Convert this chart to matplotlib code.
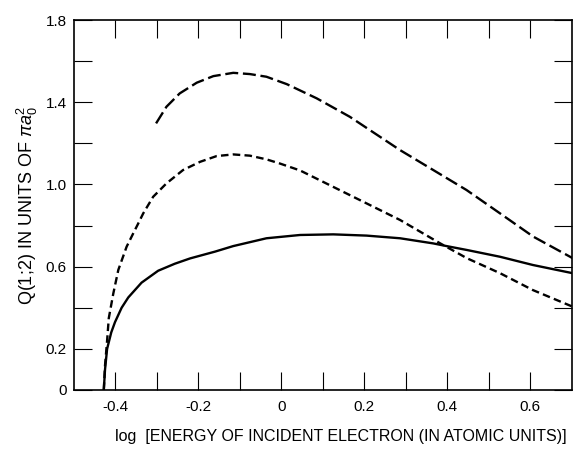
import matplotlib
matplotlib.use('Agg')
import matplotlib.pyplot as plt

plt.rcParams['font.family'] = ['Liberation Sans', 'DejaVu Sans']
plt.rcParams['mathtext.fontset'] = 'custom'
plt.rcParams['mathtext.rm'] = 'Liberation Sans'
plt.rcParams['mathtext.it'] = 'Liberation Sans:italic'

# solid curve
solid_x = [-0.428, -0.425, -0.420, -0.410, -0.401, -0.385, -0.369, -0.337,
           -0.297, -0.257, -0.220, -0.160, -0.116, -0.036, 0.045, 0.125,
           0.205, 0.286, 0.366, 0.398, 0.447, 0.527, 0.606, 0.702]
solid_y = [0.0, 0.10, 0.20, 0.28, 0.33, 0.40, 0.45, 0.522,
           0.580, 0.614, 0.640, 0.673, 0.700, 0.738, 0.754, 0.757,
           0.751, 0.738, 0.713, 0.700, 0.681, 0.648, 0.608, 0.568]

# short dashed curve
short_x = [-0.428, -0.425, -0.420, -0.416, -0.405, -0.393, -0.373, -0.357,
           -0.345, -0.333, -0.309, -0.277, -0.237, -0.196, -0.156, -0.116,
           -0.076, -0.036, -0.004, 0.045, 0.124, 0.205, 0.286, 0.382,
           0.447, 0.527, 0.606, 0.702]
short_y = [0.0, 0.12, 0.24, 0.349, 0.470, 0.584, 0.697, 0.762,
           0.810, 0.859, 0.940, 1.005, 1.070, 1.110, 1.138, 1.146,
           1.140, 1.122, 1.102, 1.068, 0.989, 0.908, 0.827, 0.714,
           0.641, 0.568, 0.486, 0.405]

# long dashed curve
long_x = [-0.302, -0.277, -0.245, -0.204, -0.164, -0.116, -0.076, -0.036,
          0.013, 0.085, 0.165, 0.286, 0.366, 0.446, 0.527, 0.607, 0.703]
long_y = [1.297, 1.378, 1.443, 1.495, 1.527, 1.543, 1.537, 1.524,
          1.488, 1.419, 1.329, 1.167, 1.070, 0.973, 0.859, 0.746, 0.640]

xticks_major = [-0.4, -0.2, 0, 0.2, 0.4, 0.6]
xtick_labels = ['-0.4', '-0.2', '0', '0.2', '0.4', '0.6']
xticks_minor = [-0.3, -0.1, 0.1, 0.3, 0.5]
yticks_major = [0, 0.2, 0.6, 1.0, 1.4, 1.8]
ytick_labels = ['0', '0.2', '0.6', '1.0', '1.4', '1.8']
yticks_minor = [0.4, 0.8, 1.2, 1.6]

fig = plt.figure(figsize=(5.73, 4.55), dpi=100)
ax = fig.add_axes([0.129, 0.143, 0.869, 0.813])

ax.plot(solid_x, solid_y, color='black', lw=1.7, solid_joinstyle='round')
l2, = ax.plot(short_x, short_y, color='black', lw=1.7)
l2.set_dashes((3.2, 1.8))
l3, = ax.plot(long_x, long_y, color='black', lw=1.7)
l3.set_dashes((5.5, 2.0))

ax.set_xlim(-0.5, 0.7)
ax.set_ylim(0, 1.8)
ax.set_xticks(xticks_major)
ax.set_xticklabels(xtick_labels)
ax.set_xticks(xticks_minor, minor=True)
ax.set_yticks(yticks_major)
ax.set_yticklabels(ytick_labels)
ax.set_yticks(yticks_minor, minor=True)

ax.tick_params(which='both', direction='in', top=True, right=True,
               length=13, width=0.8, labelsize=11)
ax.tick_params(axis='x', pad=7)
ax.tick_params(axis='y', pad=5)
for s in ax.spines.values():
    s.set_linewidth(1.2)

ax.set_ylabel(r'Q(1;2) IN UNITS OF $\pi a_0^2$', fontsize=13, labelpad=4)
ax.set_xlabel('log  [ENERGY OF INCIDENT ELECTRON (IN ATOMIC UNITS)]',
              fontsize=11.5)
ax.xaxis.set_label_coords(0.536, -0.105)

fig.savefig('out.png', dpi=100)
